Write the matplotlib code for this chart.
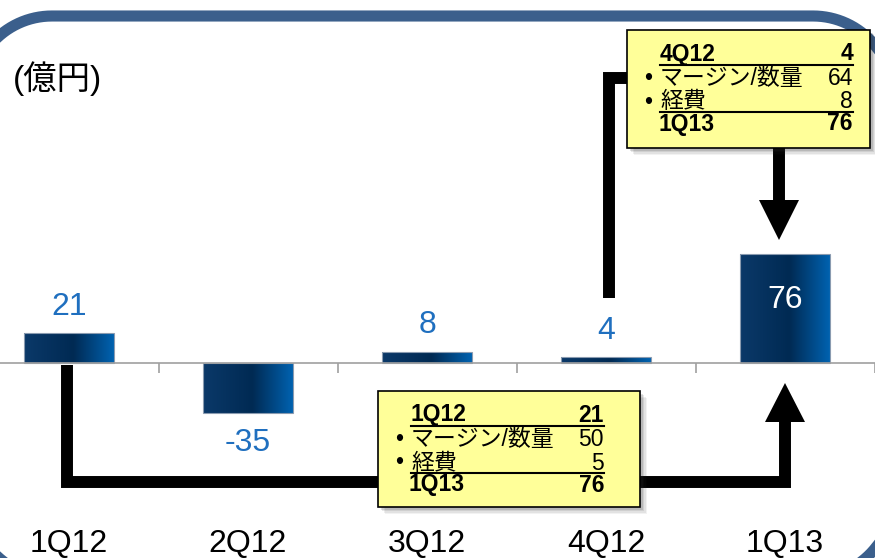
import matplotlib
matplotlib.use("Agg")
import matplotlib.pyplot as plt
import numpy as np
from matplotlib.colors import LinearSegmentedColormap
from matplotlib.patches import Rectangle, Polygon

categories = ['1Q12', '2Q12', '3Q12', '4Q12', '1Q13']
values = [21, -35, 8, 4, 76]
label_inside = [False, False, False, False, True]
unit_label = '(億円)'

# bridge boxes: start, items, end
low_start = ('1Q12', 21)
low_items = [('マージン/数量', 50), ('経費', 5)]
low_end = ('1Q13', 76)
high_start = ('4Q12', 4)
high_items = [('マージン/数量', 64), ('経費', 8)]
high_end = ('1Q13', 76)

LAT = ['Liberation Sans', 'Noto Sans CJK JP', 'DejaVu Sans']
VAL_COLOR = '#1f6fbf'
FRAME_COLOR = '#3b5f8c'

W, H = 875, 558
zero_px = 363
px_per_unit = 1.43
step_px = 179
first_px = 69

fig = plt.figure(figsize=(W / 100, H / 100), dpi=100)
fig.patch.set_facecolor('white')
ax = fig.add_axes([0, 0, 1, 1])
ax.axis('off')
xlim = (-first_px / step_px, (W - first_px) / step_px)
ylim = (-(H - zero_px) / px_per_unit, zero_px / px_per_unit)

# bars with the left-dark / right-bright gradient
grad = LinearSegmentedColormap.from_list(
    'bar', [(0, '#0b3969'), (0.55, '#002a53'), (1.0, '#0062b0')])
g = np.linspace(0, 1, 256).reshape(1, -1)
x = np.arange(len(categories))
bw = 0.5
bars = ax.bar(x, values, width=bw, color='none', edgecolor='#8a9bb0', lw=0.8, zorder=3)
for b in bars:
    x0, y0 = b.get_x(), b.get_y()
    im = ax.imshow(g, cmap=grad, aspect='auto', zorder=2,
                   extent=[x0, x0 + b.get_width(), y0, y0 + b.get_height()])
    im.set_clip_path(b)

# value labels
for xi, v, inside in zip(x, values, label_inside):
    if inside:
        ax.annotate(str(v), (xi, v), xytext=(0, -33), textcoords='offset points',
                    ha='center', va='center', color='white', fontsize=23, family=LAT, zorder=4)
    elif v >= 0:
        ax.annotate(str(v), (xi, v), xytext=(0, 19), textcoords='offset points',
                    ha='center', va='center', color=VAL_COLOR, fontsize=23, family=LAT)
    else:
        ax.annotate(str(v), (xi, v), xytext=(0, -21.5), textcoords='offset points',
                    ha='center', va='center', color=VAL_COLOR, fontsize=23, family=LAT)

# zero line with ticks between categories
ax.plot([-0.5, len(categories) - 0.5], [0, 0], color='#a0a0a0', lw=1.2, zorder=4)
ax.vlines(x + 0.5, -7, 0, color='#a0a0a0', lw=1.2, zorder=4)

# category labels
for xi, c in zip(x, categories):
    ax.text(xi, 0.025, c, transform=ax.get_xaxis_transform(), ha='center', va='center',
            fontsize=23, family=LAT)

ax.set_xlim(*xlim)
ax.set_ylim(*ylim)

# overlay in pixel coordinates for frame, boxes and connectors
deco = fig.add_axes([0, 0, 1, 1], zorder=3)
deco.set_xlim(0, W)
deco.set_ylim(H, 0)
deco.axis('off')
deco.patch.set_alpha(0)


def to_px(xv, yv):
    dx, dy = ax.transData.transform((xv, yv))
    return dx, H - dy


def rounded_outline(left, top, right, bottom, r, n=30):
    t = np.linspace(0, np.pi / 2, n)
    pts = []
    # top-left, top-right, bottom-right, bottom-left corners
    for cx, cy, a0 in [(left + r, top + r, np.pi), (right - r, top + r, 1.5 * np.pi),
                       (right - r, bottom - r, 0), (left + r, bottom - r, 0.5 * np.pi)]:
        pts += [(cx + r * np.cos(a0 + tt), cy + r * np.sin(a0 + tt)) for tt in t]
    pts.append(pts[0])
    return np.array(pts)


fr = rounded_outline(-28, 16, 893, 578, 80)
deco.plot(fr[:, 0], fr[:, 1], color=FRAME_COLOR, lw=8, zorder=1, solid_joinstyle='round')

deco.text(13, 79, unit_label, ha='left', va='center', fontsize=24, family=LAT)

LW = 8.6  # ~12 px


def arrow_head(xc, base_y, tip_y):
    deco.add_patch(Polygon([(xc - 20, base_y), (xc + 20, base_y), (xc, tip_y)],
                           closed=True, facecolor='black', edgecolor='none', zorder=6))


def draw_box(left, top, width, height, start, items, end):
    for k, a in enumerate([0.06, 0.08, 0.10, 0.14]):
        off = 7 - k * 1.5
        deco.add_patch(Rectangle((left + off, top + off), width, height, facecolor='#303030',
                                 alpha=a, edgecolor='none', zorder=6))
    deco.add_patch(Rectangle((left, top), width, height, facecolor='#ffff99',
                             edgecolor='black', lw=1.2, zorder=7))
    tx, rx, bx = left + 33, left + 226, left + 21
    rows = [top + 24, top + 48.5, top + 72, top + 94]
    fs = 16.5
    deco.text(tx, rows[0], start[0], ha='left', va='center', fontsize=fs, weight='bold', family=LAT, zorder=8)
    deco.text(rx, rows[0], str(start[1]), ha='right', va='center', fontsize=fs, weight='bold', family=LAT, zorder=8)
    for (name, val), ry in zip(items, rows[1:3]):
        deco.text(bx, ry, '•', ha='center', va='center', fontsize=fs, family=LAT, zorder=8)
        deco.text(tx, ry, name, ha='left', va='center', fontsize=fs, family=LAT, zorder=8)
        deco.text(rx, ry, str(val), ha='right', va='center', fontsize=fs, family=LAT, zorder=8)
    deco.text(tx - 2, rows[3], end[0], ha='left', va='center', fontsize=fs, weight='bold', family=LAT, zorder=8)
    deco.text(rx, rows[3], str(end[1]), ha='right', va='center', fontsize=fs, weight='bold', family=LAT, zorder=8)
    deco.plot([tx, rx], [top + 35, top + 35], color='black', lw=1.5, zorder=8)
    deco.plot([tx, rx], [top + 82, top + 82], color='black', lw=1.5, zorder=8)


x0p = to_px(0, 0)[0]
x3p = to_px(3, 0)[0]
x4p = to_px(4, 0)[0]

# lower bridge: 1Q12 -> box -> 1Q13
deco.plot([x0p - 2, x0p - 2, 380], [365, 482, 482], color='black', lw=LW,
          solid_joinstyle='miter', solid_capstyle='butt', zorder=5)
deco.plot([638, x4p, x4p], [482, 482, 421], color='black', lw=LW,
          solid_joinstyle='miter', solid_capstyle='butt', zorder=5)
arrow_head(x4p, 422, 383)
draw_box(378, 391, 262, 116, low_start, low_items, low_end)

# upper bridge: 4Q12 -> box -> 1Q13
deco.plot([x3p + 3, x3p + 3, 630], [298, 78, 78], color='black', lw=LW,
          solid_joinstyle='miter', solid_capstyle='butt', zorder=5)
deco.plot([x4p - 6, x4p - 6], [140, 201], color='black', lw=LW,
          solid_capstyle='butt', zorder=5)
arrow_head(x4p - 6, 200, 240)
draw_box(627, 30, 243, 118, high_start, high_items, high_end)

fig.savefig('out.png', dpi=100)
